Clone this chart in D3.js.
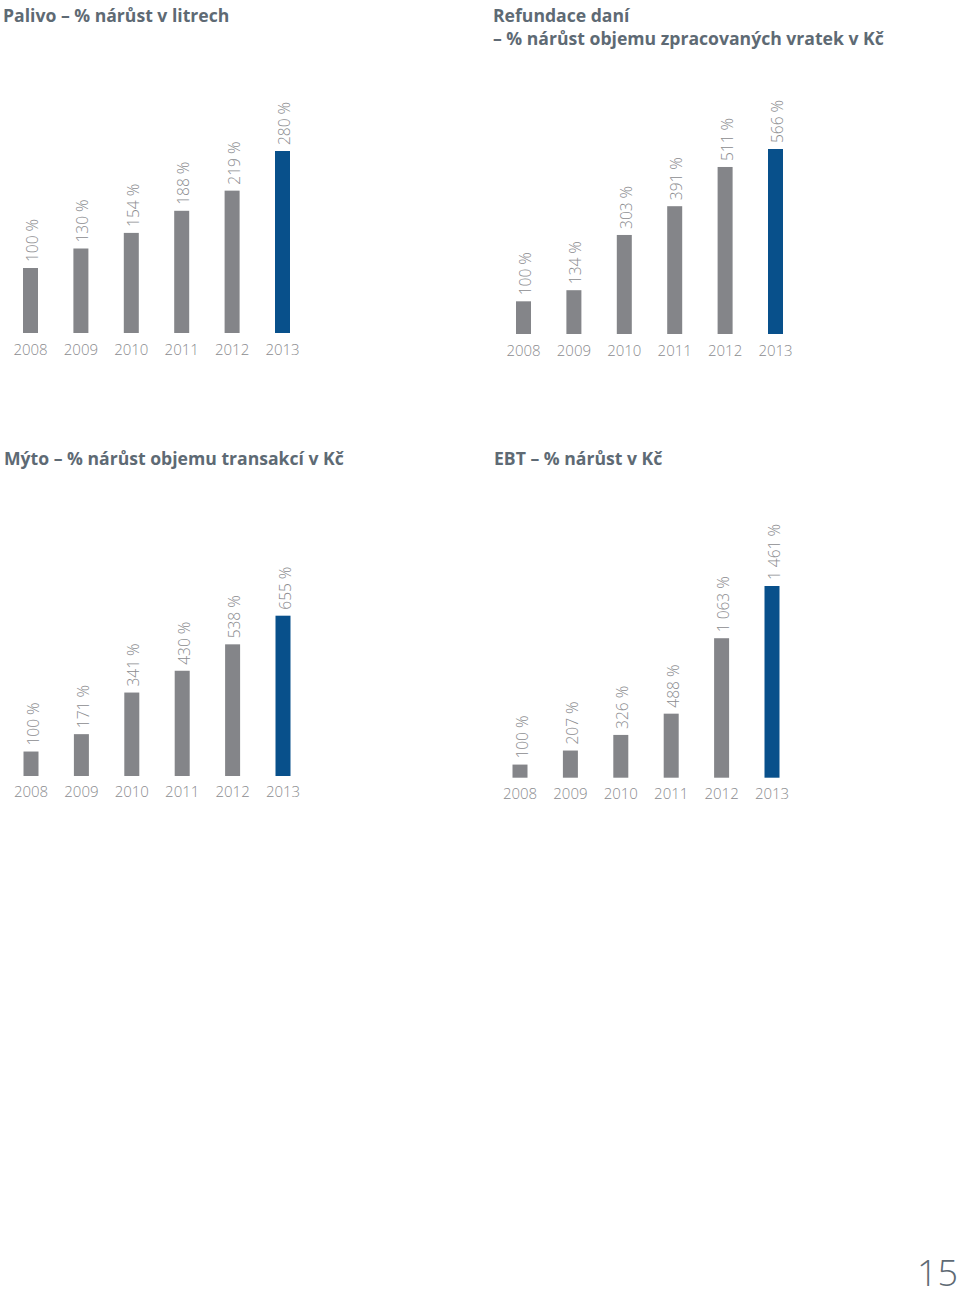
<!DOCTYPE html>
<html><head><meta charset="utf-8">
<script src="https://cdn.jsdelivr.net/npm/d3@7"></script>
<style>
html,body{margin:0;padding:0;background:#fff;}
svg{display:block;}
</style></head>
<body>
<svg id="c" width="960" height="1296"></svg>
<script>
// ---- data ----
const years = ["2008","2009","2010","2011","2012","2013"];
const palivoTitle = ["Palivo – % nárůst v litrech"];
const palivoValues = [100,130,154,188,219,280];
const refundaceTitle = ["Refundace daní","– % nárůst objemu zpracovaných vratek v Kč"];
const refundaceValues = [100,134,303,391,511,566];
const mytoTitle = ["Mýto – % nárůst objemu transakcí v Kč"];
const mytoValues = [100,171,341,430,538,655];
const ebtTitle = ["EBT – % nárůst v Kč"];
const ebtValues = [100,207,326,488,1063,1461];
const highlightYear = "2013";
const pageNumber = "15";

// ---- layout ----
const charts = [
  {title: palivoTitle, values: palivoValues, tx: 3, ty: 22, x0: 23, x1: 290, base: 333, top: 151, yearY: 355},
  {title: refundaceTitle, values: refundaceValues, tx: 493, ty: 22, x0: 516, x1: 783, base: 334, top: 149, yearY: 356},
  {title: mytoTitle, values: mytoValues, tx: 4, ty: 465, x0: 23.5, x1: 290.5, base: 776, top: 615.7, yearY: 797},
  {title: ebtTitle, values: ebtValues, tx: 494, ty: 465, x0: 512.5, x1: 779.5, base: 777.7, top: 586, yearY: 799}
];

const GRAY = "#848589", BLUE = "#08508b", TEXT = "#8b8c8f", TITLE = "#5e6a74";
const FONT = "'Open Sans', sans-serif";
const loc = d3.formatLocale({decimal: ",", thousands: "\u00a0", grouping: [3], currency: ["", " Kč"]});
const fmt = v => loc.format(",d")(v) + " %";

const svg = d3.select("#c");

charts.forEach(c => {
  const g = svg.append("g");
  const t = g.append("text")
    .attr("x", c.tx).attr("y", c.ty)
    .attr("font-family", FONT).attr("font-weight", 700).attr("font-size", 17.6)
    .attr("fill", TITLE);
  c.title.forEach((line, i) => {
    t.append("tspan").attr("x", c.tx).attr("dy", i === 0 ? 0 : 23).text(line);
  });

  const x = d3.scaleBand().domain(years).range([c.x0, c.x1]).paddingInner(1 - 15/50.4).paddingOuter(0);
  const maxV = d3.max(c.values);
  const y = d3.scaleLinear().domain([0, maxV]).range([c.base, c.top]);
  const data = years.map((yr, i) => ({year: yr, value: c.values[i]}));

  g.selectAll("rect.bar").data(data).join("rect")
    .attr("class", "bar")
    .attr("x", d => x(d.year))
    .attr("y", d => y(d.value))
    .attr("width", x.bandwidth())
    .attr("height", d => y(0) - y(d.value))
    .attr("fill", d => d.year === highlightYear ? BLUE : GRAY);

  g.selectAll("text.val").data(data).join("text")
    .attr("class", "val")
    .attr("transform", d => `translate(${x(d.year) + x.bandwidth()},${y(d.value) - 6}) rotate(-90)`)
    .attr("font-family", FONT).attr("font-weight", 300).attr("font-size", 15.5)
    .attr("fill", TEXT)
    .text(d => fmt(d.value));

  const axis = d3.axisBottom(x).tickSize(0).tickPadding(0);
  const ax = g.append("g").attr("transform", `translate(0,${c.yearY})`).call(axis);
  ax.select(".domain").remove();
  ax.selectAll("text")
    .attr("dy", 0).attr("y", 0)
    .attr("font-family", FONT).attr("font-weight", 300).attr("font-size", 15)
    .attr("fill", TEXT);
});

svg.append("text")
  .attr("x", 958).attr("y", 1286)
  .attr("text-anchor", "end")
  .attr("font-family", FONT).attr("font-weight", 300).attr("font-size", 36)
  .attr("fill", TITLE)
  .text(pageNumber);
</script>
</body></html>
